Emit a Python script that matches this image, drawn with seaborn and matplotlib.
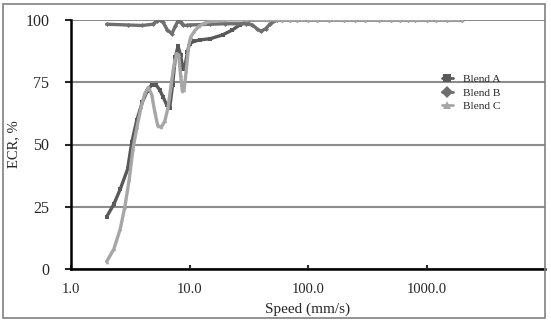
import numpy as np
import pandas as pd
import matplotlib
matplotlib.use("Agg")
import matplotlib.pyplot as plt
import seaborn as sns
from matplotlib.ticker import FixedLocator, FixedFormatter, NullLocator

high_speed = [60, 70, 80, 100, 120, 150, 200, 250, 300, 400, 500, 600, 700, 800, 1000, 1200, 1500, 2000]

speed_a = [2, 2.3, 2.6, 3.0, 3.26, 3.6, 4.0, 4.4, 4.8, 5.2, 5.6, 6.0, 6.4, 6.8, 7.2, 7.6, 8.0, 8.4,
           8.8, 9.2, 9.6, 10, 11, 12.2, 15, 19, 23, 26.5, 30, 34, 45] + high_speed
ecr_a = [21, 26, 32, 40, 51, 60, 67, 71.5, 74, 74, 72, 69, 66, 64.5, 74, 85, 89.5, 86,
         80.5, 82, 87, 90.5, 91.5, 92, 92.5, 94, 96, 98, 99.2, 100, 100] + [100] * len(high_speed)

speed_b = [2, 3, 4, 4.9, 5.3, 5.6, 6.0, 6.5, 7.1, 7.6, 8.0, 8.4, 8.8, 9.5, 10, 15, 20, 25, 30,
           34, 37, 40, 44, 48, 55] + high_speed
ecr_b = [98.3, 98, 97.8, 98.3, 99.5, 100, 99, 96, 94.5, 97.5, 99.7, 99, 98, 97.8, 98, 98.3, 98.5,
         98.5, 98.5, 98, 96.5, 95.5, 96.5, 98.5, 100] + [100] * len(high_speed)

speed_c = [2, 2.3, 2.6, 2.85, 3.1, 3.33, 3.6, 3.9, 4.2, 4.5, 4.8, 5.1, 5.4, 5.8, 6.2, 6.6, 7.0,
           7.4, 7.8, 8.1, 8.4, 8.7, 9.0, 9.4, 9.8, 10.2, 11, 12, 13.5, 15, 20, 30, 45] + high_speed
ecr_c = [3, 8, 16, 25, 36, 48, 57, 65, 70.5, 73, 70, 63, 57.5, 57, 59.5, 65, 74,
         82, 86.5, 86, 78, 71.5, 72, 80, 89, 93, 95.5, 97.5, 98.8, 99.5, 100, 100, 100] + [100] * len(high_speed)

series_names = ["Blend A", "Blend B", "Blend C"]
y_ticks = [0, 25, 50, 75, 100]
x_ticks = [1, 10, 100, 1000]
x_tick_labels = ["1.0", "10.0", "100.0", "1000.0"]

df = pd.concat([
    pd.DataFrame({"Speed": speed_a, "ECR": ecr_a, "Series": series_names[0]}),
    pd.DataFrame({"Speed": speed_b, "ECR": ecr_b, "Series": series_names[1]}),
    pd.DataFrame({"Speed": speed_c, "ECR": ecr_c, "Series": series_names[2]}),
], ignore_index=True)

sns.set_style("white")
plt.rcParams["font.family"] = ["Liberation Serif", "DejaVu Serif"]

fig = plt.figure(figsize=(5.51, 3.23), dpi=100)
ax = fig.add_axes([71/551, 1 - 269/323, (545 - 71)/551, (269 - 20)/323])

palette = {"Blend A": "#595959", "Blend B": "#6f6f6f", "Blend C": "#a6a6a6"}
markers = {"Blend A": "s", "Blend B": "D", "Blend C": "^"}
sns.lineplot(data=df, x="Speed", y="ECR", hue="Series", style="Series",
             palette=palette, markers=markers, dashes=False, sort=False,
             linewidth=2.4, markersize=2.5, markeredgewidth=0, ax=ax, legend=True)
for line in ax.lines:
    line.set_solid_joinstyle("round")
    line.set_solid_capstyle("round")

ax.set_xscale("log")
ax.set_xlim(1, 10000)
ax.set_ylim(0, 100)
ax.xaxis.set_major_locator(FixedLocator(x_ticks))
ax.xaxis.set_major_formatter(FixedFormatter(x_tick_labels))
ax.xaxis.set_minor_locator(NullLocator())
ax.set_yticks(y_ticks)
ax.yaxis.grid(True, color="#8c8c8c", linewidth=1.5)
ax.xaxis.grid(False)
ax.set_axisbelow(True)

for s in ["top", "right"]:
    ax.spines[s].set_visible(False)
for s in ["left", "bottom"]:
    ax.spines[s].set_color("black")
    ax.spines[s].set_linewidth(1.8)

ax.tick_params(axis="y", direction="out", length=4.5, width=1.5, labelsize=11.5, pad=11, left=True)
ax.tick_params(axis="x", direction="in", length=3, width=1.5, labelsize=10.5, pad=10, bottom=True)

ax.set_xlabel("Speed (mm/s)", fontsize=11, labelpad=5)
ax.set_ylabel("ECR, %", fontsize=10.5, labelpad=4)

leg = ax.legend(loc="upper left", bbox_to_anchor=(0.77, 0.805), frameon=False,
                fontsize=8.2, handlelength=1.0, handletextpad=0.9,
                labelspacing=0.3, borderpad=0)
for h in leg.legend_handles:
    h.set_markersize(6)
    h.set_linewidth(2)

border = plt.Rectangle((3/551, 1 - 318/323), (545 - 3)/551, (318 - 4)/323,
                       transform=fig.transFigure, fill=False,
                       edgecolor="#808080", linewidth=1.2)
fig.add_artist(border)

fig.savefig("out.png", dpi=100)
